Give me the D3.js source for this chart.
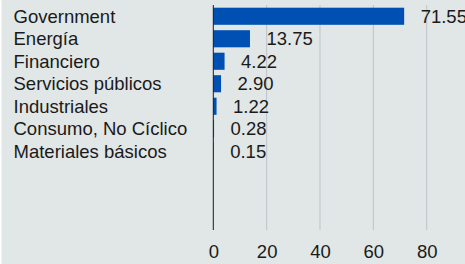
<!DOCTYPE html>
<html>
<head>
<meta charset="utf-8">
<script src="https://cdn.jsdelivr.net/npm/d3@7"></script>
<style>
  html, body { margin: 0; padding: 0; background: #ffffff; }
  svg { display: block; }
  text { font-family: "Liberation Sans", Arial, sans-serif; fill: #1a1a1a; }
</style>
</head>
<body>
<div id="chart"></div>
<script>
// Data
var categories = ['Government', 'Energía', 'Financiero', 'Servicios públicos',
                  'Industriales', 'Consumo, No Cíclico', 'Materiales básicos'];
var values = [71.55, 13.75, 4.22, 2.90, 1.22, 0.28, 0.15];
var xTicks = [0, 20, 40, 60, 80];
// the band axis has room for 10 rows, only 7 are used
var rowSlots = 10;

var svgWidth = 465;
var svgHeight = 264;
var fontSize = '18.5px';

var margin = { top: 5, left: 213.3, bottom: 34 };
var plotRight = 426.7;
var plotBottom = svgHeight - margin.bottom;

var svg = d3.select('#chart')
  .append('svg')
  .attr('width', svgWidth)
  .attr('height', svgHeight);

// Background panel
svg.append('rect')
  .attr('x', 1.5)
  .attr('y', 0)
  .attr('width', svgWidth - 1.5)
  .attr('height', svgHeight)
  .attr('fill', '#e1e6e6');

var xScale = d3.scaleLinear()
  .domain([0, 80])
  .range([margin.left, plotRight]);

var slots = d3.range(rowSlots);
var yScale = d3.scaleBand()
  .domain(slots)
  .range([margin.top, plotBottom])
  .paddingInner(0.24)
  .paddingOuter(0.12);

// Gridlines
svg.append('g')
  .selectAll('line')
  .data(xTicks.filter(function(t) { return t > 0; }))
  .enter()
  .append('line')
  .attr('x1', function(d) { return xScale(d); })
  .attr('x2', function(d) { return xScale(d); })
  .attr('y1', margin.top)
  .attr('y2', plotBottom)
  .attr('stroke', '#bfc3c7')
  .attr('stroke-width', 1);

// X axis tick labels
var xAxis = d3.axisBottom(xScale)
  .tickValues(xTicks)
  .tickSize(0)
  .tickPadding(15)
  .tickFormat(d3.format('d'));

var xAxisGroup = svg.append('g')
  .attr('transform', 'translate(0,' + plotBottom + ')')
  .call(xAxis);
xAxisGroup.select('.domain').remove();
xAxisGroup.selectAll('text')
  .style('font-size', fontSize)
  .style('font-family', '"Liberation Sans", Arial, sans-serif')
  .attr('fill', '#1a1a1a');

// Bars
var rows = categories.map(function(c, i) { return { cat: c, value: values[i], slot: i }; });

svg.append('g')
  .selectAll('rect')
  .data(rows)
  .enter()
  .append('rect')
  .attr('x', xScale(0))
  .attr('y', function(d) { return yScale(d.slot); })
  .attr('width', function(d) { return xScale(d.value) - xScale(0); })
  .attr('height', yScale.bandwidth())
  .attr('fill', '#0050b4');

// Value labels
svg.append('g')
  .selectAll('text')
  .data(rows)
  .enter()
  .append('text')
  .attr('x', function(d) { return xScale(d.value) + 16.5; })
  .attr('y', function(d) { return yScale(d.slot) + yScale.bandwidth() / 2; })
  .attr('dy', '0.36em')
  .style('font-size', fontSize)
  .text(function(d) { return d.value.toFixed(2); });

// Category labels
svg.append('g')
  .selectAll('text')
  .data(rows)
  .enter()
  .append('text')
  .attr('x', 13.5)
  .attr('y', function(d) { return yScale(d.slot) + yScale.bandwidth() / 2; })
  .attr('dy', '0.36em')
  .style('font-size', fontSize)
  .text(function(d) { return d.cat; });

// Zero axis line
svg.append('line')
  .attr('x1', xScale(0))
  .attr('x2', xScale(0))
  .attr('y1', margin.top)
  .attr('y2', plotBottom)
  .attr('stroke', '#1a1a1a')
  .attr('stroke-width', 1);
</script>
</body>
</html>
